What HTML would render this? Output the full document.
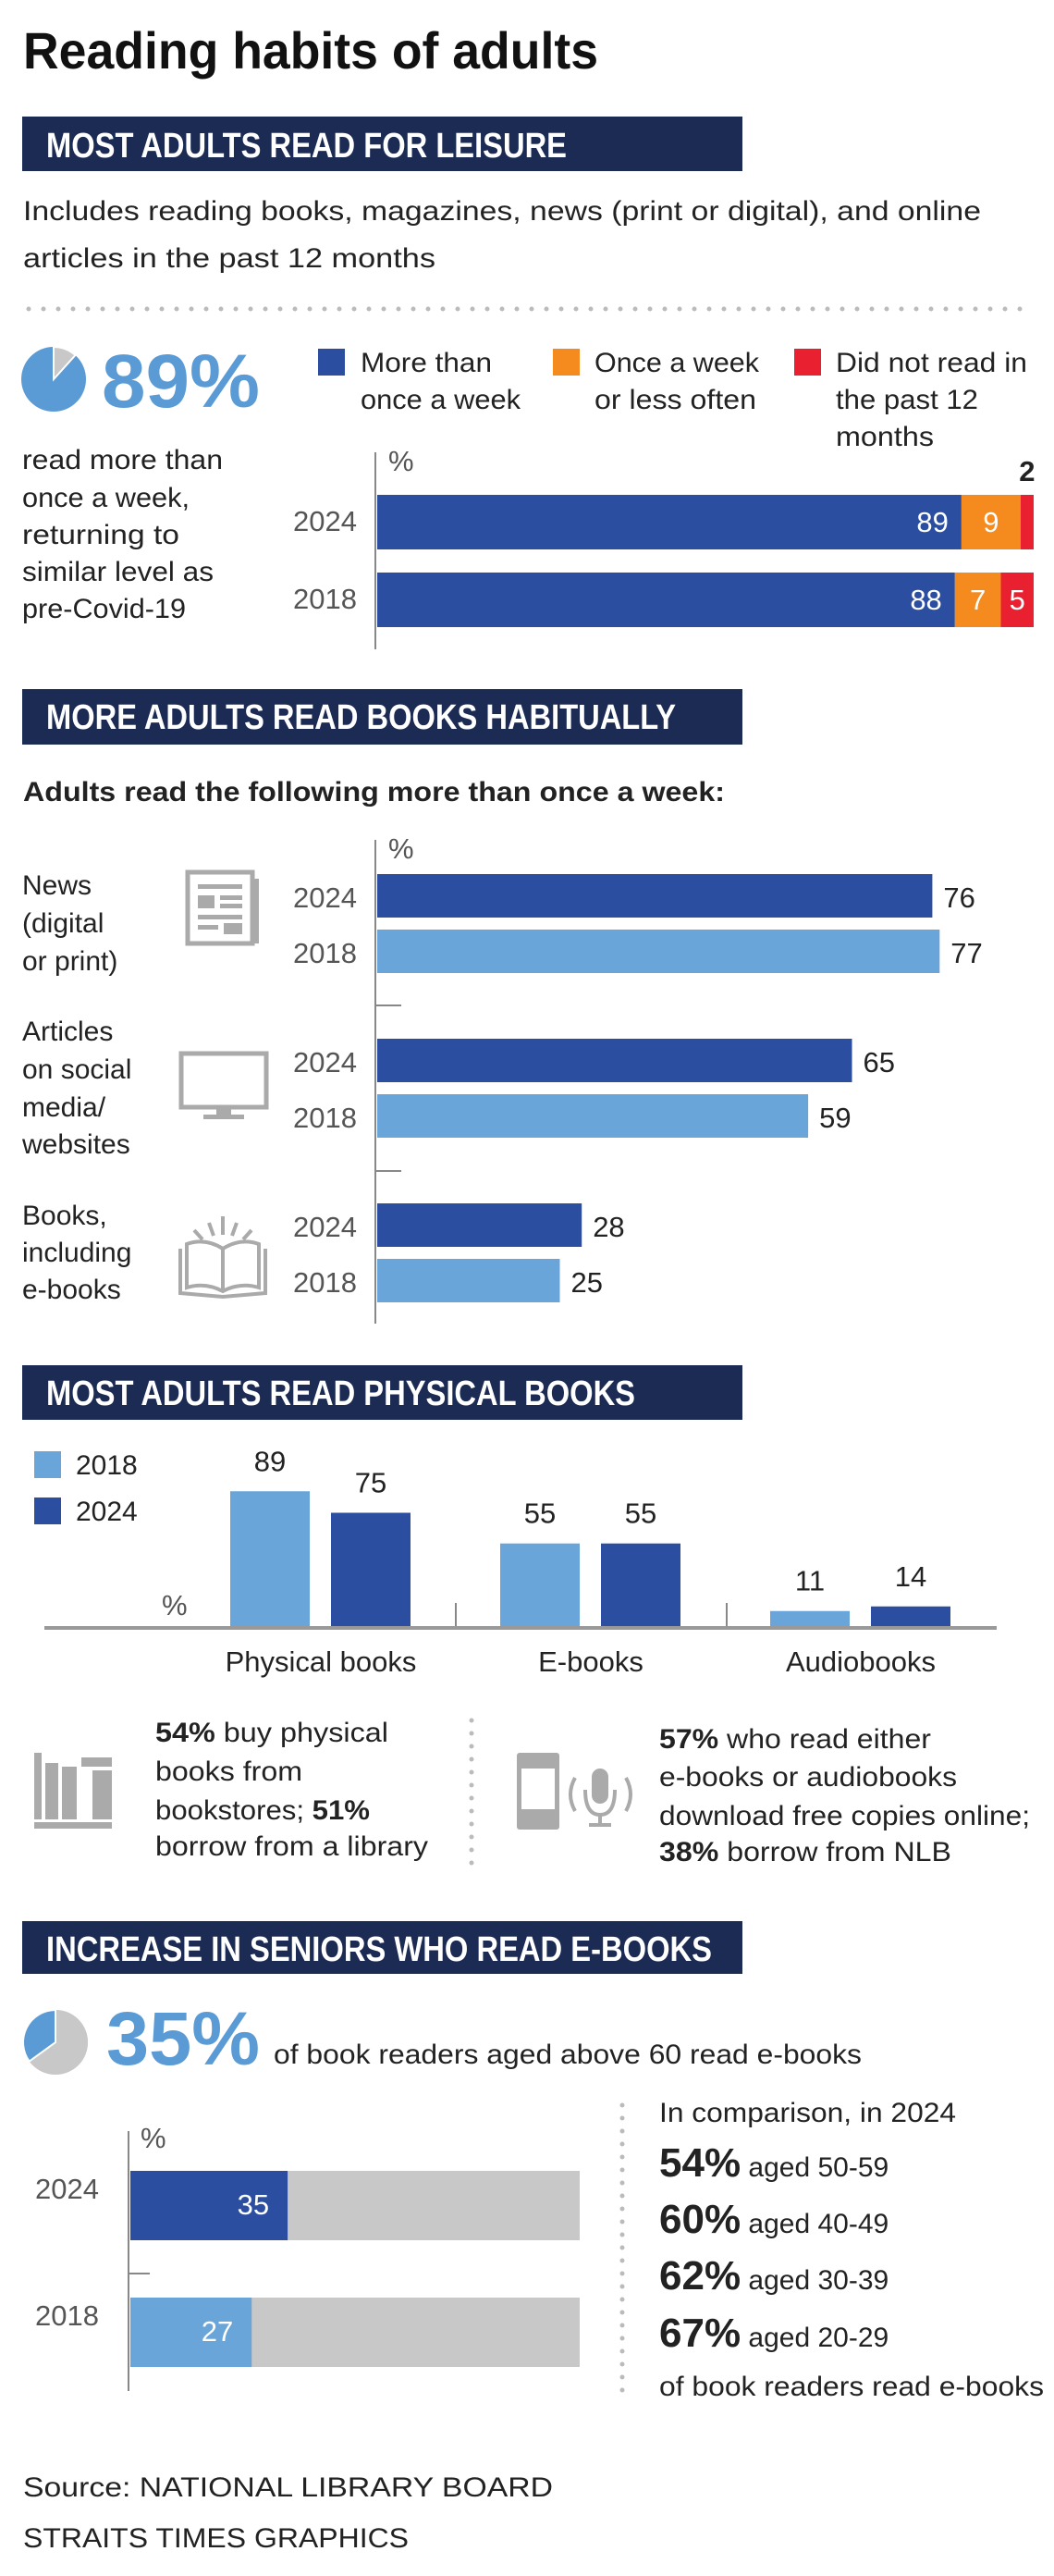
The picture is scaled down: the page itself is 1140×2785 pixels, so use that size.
<!DOCTYPE html>
<html><head><meta charset="utf-8"><title>Reading habits of adults</title>
<style>
html,body{margin:0;padding:0;background:#fff;}
svg{display:block;font-family:"Liberation Sans",sans-serif;}
.t{fill:#222;font-size:30px;}
.y{fill:#555;font-size:31px;}
.hd{fill:#fff;font-size:38px;font-weight:bold;}
</style></head>
<body>
<svg id="page" width="1140" height="2785" viewBox="0 0 1140 2785" xmlns="http://www.w3.org/2000/svg">
<text x="25" y="74" font-size="56" font-weight="bold" fill="#111" textLength="622" lengthAdjust="spacingAndGlyphs">Reading habits of adults</text>

<!-- Section 1 -->
<rect x="24" y="126" width="779" height="59" fill="#1c2b54"/>
<text class="hd" x="50" y="170" textLength="563" lengthAdjust="spacingAndGlyphs">MOST ADULTS READ FOR LEISURE</text>
<text class="t" x="25" y="238" font-size="32" textLength="1036" lengthAdjust="spacingAndGlyphs">Includes reading books, magazines, news (print or digital), and online</text>
<text class="t" x="25" y="289" font-size="32" textLength="446" lengthAdjust="spacingAndGlyphs">articles in the past 12 months</text>
<line x1="31" y1="334" x2="1115" y2="334" stroke="#bbb" stroke-width="5" stroke-linecap="round" stroke-dasharray="0 16"/>
<g>
<circle cx="58" cy="410" r="35" fill="#5b9bd5"/>
<path d="M58 410 L58 375 A35 35 0 0 1 81.5 384 Z" fill="#c8c8c8" stroke="#fff" stroke-width="2"/>
</g>
<text x="110" y="440" font-size="82" font-weight="bold" fill="#5b9bd5" textLength="171" lengthAdjust="spacingAndGlyphs">89%</text>
<g>
<rect x="344" y="377" width="29" height="29" fill="#2c4ea0"/>
<text class="t" x="390" y="402" textLength="142" lengthAdjust="spacingAndGlyphs">More than</text>
<text class="t" x="390" y="442" textLength="173" lengthAdjust="spacingAndGlyphs">once a week</text>
<rect x="598" y="377" width="29" height="29" fill="#f58a1f"/>
<text class="t" x="643" y="402" textLength="178" lengthAdjust="spacingAndGlyphs">Once a week</text>
<text class="t" x="643" y="442" textLength="175" lengthAdjust="spacingAndGlyphs">or less often</text>
<rect x="859" y="377" width="29" height="29" fill="#e8202f"/>
<text class="t" x="904" y="402" textLength="207" lengthAdjust="spacingAndGlyphs">Did not read in</text>
<text class="t" x="904" y="442" textLength="154" lengthAdjust="spacingAndGlyphs">the past 12</text>
<text class="t" x="904" y="482" textLength="106" lengthAdjust="spacingAndGlyphs">months</text>
</g>
<g>
<text class="t" x="24" y="507" textLength="217" lengthAdjust="spacingAndGlyphs">read more than</text>
<text class="t" x="24" y="548" textLength="181" lengthAdjust="spacingAndGlyphs">once a week,</text>
<text class="t" x="24" y="588" textLength="170" lengthAdjust="spacingAndGlyphs">returning to</text>
<text class="t" x="24" y="628" textLength="207" lengthAdjust="spacingAndGlyphs">similar level as</text>
<text class="t" x="24" y="668" textLength="177" lengthAdjust="spacingAndGlyphs">pre-Covid-19</text>
</g>
<g id="chart1">
<line x1="406" y1="489" x2="406" y2="702" stroke="#888" stroke-width="2"/>
<text class="y" x="420" y="509" font-size="28">%</text>
</g>

<!-- Section 2 -->
<rect x="24" y="745" width="779" height="60" fill="#1c2b54"/>
<text class="hd" x="50" y="788" textLength="681" lengthAdjust="spacingAndGlyphs">MORE ADULTS READ BOOKS HABITUALLY</text>
<text class="t" x="25" y="866" font-weight="bold" font-size="30" fill="#333" textLength="759" lengthAdjust="spacingAndGlyphs">Adults read the following more than once a week:</text>
<g>
<text class="t" x="24" y="967">News</text>
<text class="t" x="24" y="1008">(digital</text>
<text class="t" x="24" y="1049">or print)</text>
<text class="t" x="24" y="1125">Articles</text>
<text class="t" x="24" y="1166">on social</text>
<text class="t" x="24" y="1207">media/</text>
<text class="t" x="24" y="1247">websites</text>
<text class="t" x="24" y="1324">Books,</text>
<text class="t" x="24" y="1364">including</text>
<text class="t" x="24" y="1404">e-books</text>
</g>
<g fill="#aaa">
<rect x="203" y="943" width="70" height="77" fill="none" stroke="#aaa" stroke-width="5"/>
<rect x="273" y="950" width="7" height="70"/>
<rect x="214" y="956" width="48" height="5"/>
<rect x="214" y="968" width="18" height="14"/><rect x="238" y="968" width="24" height="5"/><rect x="238" y="977" width="24" height="5"/>
<rect x="214" y="989" width="48" height="5"/>
<rect x="214" y="1000" width="22" height="5"/><rect x="242" y="998" width="20" height="12"/>
</g>
<g fill="#aaa">
<rect x="196" y="1139" width="92" height="58" fill="none" stroke="#aaa" stroke-width="5"/>
<rect x="234" y="1199" width="16" height="8"/><rect x="220" y="1205" width="44" height="5"/>
</g>
<g fill="none" stroke="#aaa" stroke-width="4">
<path d="M195 1350 L195 1398 L241 1402 L287 1398 L287 1350"/>
<path d="M202 1345 Q222 1338 241 1350 Q260 1338 280 1345 L280 1392 Q260 1386 241 1396 Q222 1386 202 1392 Z"/>
<line x1="241" y1="1350" x2="241" y2="1396"/>
<line x1="241" y1="1315" x2="241" y2="1335"/><line x1="226" y1="1322" x2="231" y2="1336"/><line x1="256" y1="1322" x2="251" y2="1336"/>
<line x1="210" y1="1330" x2="219" y2="1340"/><line x1="272" y1="1330" x2="263" y2="1340"/>
</g>
<g id="chart2">
<line x1="406" y1="908" x2="406" y2="1431" stroke="#888" stroke-width="2"/>
<text class="y" x="420" y="928" font-size="28">%</text>
<line x1="406" y1="1087" x2="434" y2="1087" stroke="#888" stroke-width="2"/>
<line x1="406" y1="1266" x2="434" y2="1266" stroke="#888" stroke-width="2"/>
</g>

<!-- Section 3 -->
<rect x="24" y="1476" width="779" height="59" fill="#1c2b54"/>
<text class="hd" x="50" y="1519" textLength="637" lengthAdjust="spacingAndGlyphs">MOST ADULTS READ PHYSICAL BOOKS</text>
<g>
<rect x="37" y="1569" width="29" height="29" fill="#6aa5da"/>
<text class="t" x="82" y="1594" font-size="31">2018</text>
<rect x="37" y="1619" width="29" height="29" fill="#2c4ea0"/>
<text class="t" x="82" y="1644" font-size="31">2024</text>
</g>
<g id="chart3">
<text class="y" x="175" y="1746" font-size="28">%</text>
<line x1="493" y1="1733" x2="493" y2="1760" stroke="#888" stroke-width="2"/>
<line x1="786" y1="1733" x2="786" y2="1760" stroke="#888" stroke-width="2"/>
</g>
<g fill="#aaa">
<rect x="37" y="1970" width="84" height="7"/>
<rect x="37" y="1895" width="8" height="72"/>
<rect x="49" y="1906" width="14" height="61"/>
<rect x="67" y="1910" width="16" height="57"/>
<rect x="88" y="1900" width="33" height="10"/><rect x="100" y="1914" width="21" height="53"/>
</g>
<g>
<text class="t" x="168" y="1883" textLength="252" lengthAdjust="spacingAndGlyphs"><tspan font-weight="bold">54%</tspan> buy physical</text>
<text class="t" x="168" y="1925" textLength="159" lengthAdjust="spacingAndGlyphs">books from</text>
<text class="t" x="168" y="1967" textLength="232" lengthAdjust="spacingAndGlyphs">bookstores; <tspan font-weight="bold">51%</tspan></text>
<text class="t" x="168" y="2006" textLength="295" lengthAdjust="spacingAndGlyphs">borrow from a library</text>
</g>
<line x1="510" y1="1860" x2="510" y2="2025" stroke="#bbb" stroke-width="5" stroke-linecap="round" stroke-dasharray="0 14"/>
<g fill="#aaa">
<rect x="559" y="1895" width="46" height="83" rx="3"/>
<rect x="564" y="1912" width="36" height="44" fill="#fff"/>
<rect x="640" y="1912" width="18" height="38" rx="9"/>
<path d="M633 1935 Q633 1962 649 1962 Q665 1962 665 1935" fill="none" stroke="#aaa" stroke-width="4"/>
<rect x="647" y="1962" width="4" height="10"/><rect x="637" y="1971" width="24" height="4"/>
<path d="M622 1922 Q612 1940 622 1958 M677 1922 Q687 1940 677 1958" fill="none" stroke="#aaa" stroke-width="4"/>
</g>
<g>
<text class="t" x="713" y="1890" textLength="294" lengthAdjust="spacingAndGlyphs"><tspan font-weight="bold">57%</tspan> who read either</text>
<text class="t" x="713" y="1931" textLength="322" lengthAdjust="spacingAndGlyphs">e-books or audiobooks</text>
<text class="t" x="713" y="1973" textLength="401" lengthAdjust="spacingAndGlyphs">download free copies online;</text>
<text class="t" x="713" y="2012" textLength="316" lengthAdjust="spacingAndGlyphs"><tspan font-weight="bold">38%</tspan> borrow from NLB</text>
</g>

<!-- Section 4 -->
<rect x="24" y="2077" width="779" height="57" fill="#1c2b54"/>
<text class="hd" x="50" y="2120" textLength="720" lengthAdjust="spacingAndGlyphs">INCREASE IN SENIORS WHO READ E-BOOKS</text>
<g>
<circle cx="60" cy="2208" r="35" fill="#c8c8c8"/>
<path d="M60 2208 L60 2173 A35 35 0 0 1 78.7 2237.6 Z" fill="#c8c8c8"/>
<path d="M60 2208 L60 2173 A35 35 0 0 0 31.7 2228.6 Z" fill="#5b9bd5" stroke="#fff" stroke-width="2"/>
</g>
<text x="115" y="2232" font-size="82" font-weight="bold" fill="#5b9bd5" textLength="166" lengthAdjust="spacingAndGlyphs">35%</text>
<text class="t" x="296" y="2231" textLength="636" lengthAdjust="spacingAndGlyphs">of book readers aged above 60 read e-books</text>
<g id="chart4">
<line x1="139" y1="2304" x2="139" y2="2585" stroke="#888" stroke-width="2"/>
<text class="y" x="152" y="2322" font-size="28">%</text>
<line x1="139" y1="2458" x2="162" y2="2458" stroke="#888" stroke-width="2"/>
</g>
<line x1="673" y1="2276" x2="673" y2="2585" stroke="#bbb" stroke-width="5" stroke-linecap="round" stroke-dasharray="0 14"/>
<g>
<text class="t" x="713" y="2294" textLength="321" lengthAdjust="spacingAndGlyphs">In comparison, in 2024</text>
<text class="t" x="713" y="2353"><tspan font-size="44" font-weight="bold">54%</tspan> aged 50-59</text>
<text class="t" x="713" y="2414"><tspan font-size="44" font-weight="bold">60%</tspan> aged 40-49</text>
<text class="t" x="713" y="2475"><tspan font-size="44" font-weight="bold">62%</tspan> aged 30-39</text>
<text class="t" x="713" y="2537"><tspan font-size="44" font-weight="bold">67%</tspan> aged 20-29</text>
<text class="t" x="713" y="2590" textLength="416" lengthAdjust="spacingAndGlyphs">of book readers read e-books</text>
</g>
<text class="t" x="25" y="2699" font-size="35" fill="#333" textLength="573" lengthAdjust="spacingAndGlyphs">Source: NATIONAL LIBRARY BOARD</text>
<text class="t" x="25" y="2754" font-size="35" fill="#333" textLength="417" lengthAdjust="spacingAndGlyphs">STRAITS TIMES GRAPHICS</text>
</svg>
<script>
var NS='http://www.w3.org/2000/svg';
// Chart 1 data
var c1Years=['2024','2018'];
var c1More=[89,88];
var c1Once=[9,7];
var c1DidNot=[2,5];
// Chart 2 data
var c2Categories=['News','Articles','Books'];
var c2Val2024=[76,65,28];
var c2Val2018=[77,59,25];
// Chart 3 data
var c3Categories=['Physical books','E-books','Audiobooks'];
var c3Val2018=[89,55,11];
var c3Val2024=[75,55,14];
// Chart 4 data
var c4Years=['2024','2018'];
var c4Vals=[35,27];

function mk(tag,attrs,parent,txt){var e=document.createElementNS(NS,tag);for(var k in attrs)e.setAttribute(k,attrs[k]);if(txt!=null)e.textContent=txt;parent.appendChild(e);return e;}

// chart 1
(function(){
var g=document.getElementById('chart1');
var x=function(v){return 408+v*7.1;};
var rowY=function(i){return 535+i*84;};
var h=59;
for(var i=0;i<c1Years.length;i++){
var y=rowY(i);
var yl=mk('text',{x:386,y:y+39,'text-anchor':'end','class':'y'},g,c1Years[i]);


var a=c1More[i],b=c1Once[i],c=c1DidNot[i];
var r1=mk('rect',{x:x(0),y:y,width:x(a)-x(0),height:h,fill:'#2c4ea0'},g);


var r2=mk('rect',{x:x(a),y:y,width:x(a+b)-x(a),height:h,fill:'#f58a1f'},g);


var r3=mk('rect',{x:x(a+b),y:y,width:x(a+b+c)-x(a+b),height:h,fill:'#e8202f'},g);


var t1=mk('text',{x:x(a)-14,y:y+40,'text-anchor':'end',fill:'#fff','font-size':31},g,a);


var t2=mk('text',{x:(x(a)+x(a+b))/2,y:y+40,'text-anchor':'middle',fill:'#fff','font-size':31},g,b);


var t3;
if(c<4){t3=mk('text',{x:(x(a+b)+x(a+b+c))/2,y:y-15,'text-anchor':'middle',fill:'#222','font-size':31,'font-weight':'bold'},g,c);}
else{t3=mk('text',{x:(x(a+b)+x(a+b+c))/2,y:y+40,'text-anchor':'middle',fill:'#fff','font-size':31},g,c);}


}
})();

// chart 2
(function(){
var g=document.getElementById('chart2');
var x=function(v){return 408+v*7.9;};
for(var i=0;i<c2Categories.length;i++){
var top=945+i*178;
var pairs=[['2024',c2Val2024[i],'#2c4ea0',top],['2018',c2Val2018[i],'#6aa5da',top+60]];
for(var j=0;j<2;j++){
var p=pairs[j];
var yl=mk('text',{x:386,y:p[3]+36,'text-anchor':'end','class':'y'},g,p[0]);


var r=mk('rect',{x:x(0),y:p[3],width:x(p[1])-x(0),height:47,fill:p[2]},g);


var t=mk('text',{x:x(p[1])+12,y:p[3]+36,fill:'#222','font-size':31},g,p[1]);


}
}
})();

// chart 3
(function(){
var g=document.getElementById('chart3');
var base=1760;
var hgt=function(v){return v*1.66;};
for(var i=0;i<c3Categories.length;i++){
var cx=347+i*292;
var bars=[[c3Val2018[i],'#6aa5da',cx-98,'2018'],[c3Val2024[i],'#2c4ea0',cx+11,'2024']];
for(var j=0;j<2;j++){
var b=bars[j];
var r=mk('rect',{x:b[2],y:base-hgt(b[0]),width:86,height:hgt(b[0]),fill:b[1]},g);


var t=mk('text',{x:b[2]+43,y:base-hgt(b[0])-22,'text-anchor':'middle',fill:'#222','font-size':31},g,b[0]);


}
var cl=mk('text',{x:cx,y:1807,'text-anchor':'middle',fill:'#222','font-size':31},g,c3Categories[i]);


}
var ax=mk('line',{x1:48,y1:base,x2:1078,y2:base,stroke:'#999','stroke-width':4},g);


})();

// chart 4
(function(){
var g=document.getElementById('chart4');
var x=function(v){return 141+v*4.86;};
for(var i=0;i<c4Years.length;i++){
var top=2347+i*137;
var bg=mk('rect',{x:x(0),y:top,width:x(100)-x(0),height:75,fill:'#c8c8c8'},g);


var r=mk('rect',{x:x(0),y:top,width:x(c4Vals[i])-x(0),height:75,fill:i==0?'#2c4ea0':'#6aa5da'},g);


var t=mk('text',{x:x(c4Vals[i])-20,y:top+47,'text-anchor':'end',fill:'#fff','font-size':31},g,c4Vals[i]);


var yl=mk('text',{x:107,y:top+30,'text-anchor':'end','class':'y'},g,c4Years[i]);


}
})();
</script>
</body></html>
